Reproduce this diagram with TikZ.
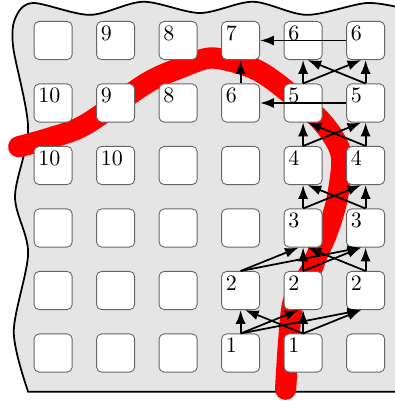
\documentclass[tikz,border=0pt]{standalone}
\usetikzlibrary{arrows.meta}
\tikzset{
  case/.style={draw=gray!80!black, fill=white, rounded corners=0.08cm, minimum size=0.61cm, inner sep=0pt},
  nombre/.style={anchor=north west, inner sep=2pt},
  fleche/.style={-{Latex[length=2.2mm,width=1.6mm]}, thick}
}
\begin{document}
\begin{tikzpicture}
\useasboundingbox (0,0) rectangle (6.32,6.448);

% Fond
\filldraw[fill=gray!20, thick] plot[smooth] coordinates {(0.45,0.18) (0.22,1.14) (0.45,2.4) (0.24,3.3) (0.45,4.4) (0.21,5.7) (0.25,6.17) (0.53,6.40) (1.44,6.21) (2.29,6.42) (3.2,6.24) (4.05,6.42) (4.91,6.21) (5.87,6.40) (6.5,6.3)} -- (6.5,0.18) -- cycle;

% Chemin
\draw[red, line width=0.34cm, line cap=round] plot[smooth, tension=0.5] coordinates {(0.3,4.1) (0.8,4.24) (1.36,4.45) (2.35,5.12) (2.88,5.36) (3.36,5.52) (3.84,5.43) (4.16,5.3) (4.53,5.04) (5.15,4.5) (5.46,3.97) (5.39,3.25) (5.23,2.72) (5.06,2.34) (4.98,2.13) (4.7,1.65) (4.62,1.0) (4.57,0.22)};

% Cases
\foreach \x in {1,...,6}
  \foreach \y in {1,...,6}
    \node[case] (c\x\y) at (\x-0.15,\y-0.2) {};

% Nombres
\foreach \x/\y/\t in {4/1/1, 5/1/1, 4/2/2, 5/2/2, 6/2/2, 5/3/3, 6/3/3, 5/4/4, 6/4/4,
  5/5/5, 6/5/5, 4/5/6, 5/6/6, 6/6/6, 4/6/7, 3/6/8, 3/5/8, 2/6/9, 2/5/9, 1/5/10, 1/4/10, 2/4/10}
  \node[nombre] (n\x\y) at (c\x\y.north west) {\t};

% Flèches
\foreach \a/\b/\s in {41/42/0, 41/52/-2, 41/62/-2, 51/52/0, 51/42/2, 51/62/-2,
  42/53/-2, 42/63/-2, 52/53/0, 52/63/-2, 62/63/0, 62/53/2,
  53/54/0, 53/64/-2, 63/64/0, 63/54/2, 54/55/0, 54/65/-2, 64/65/0, 64/55/2,
  55/56/0, 55/66/-2, 65/66/0, 65/56/2, 45/46/0}
  \draw[fleche] (c\a.north) -- ([xshift=\s pt]c\b.south);
\draw[fleche] (c66.west) -- (c46.east);
\draw[fleche] (c65.west) -- (c45.east);

\end{tikzpicture}
\end{document}
